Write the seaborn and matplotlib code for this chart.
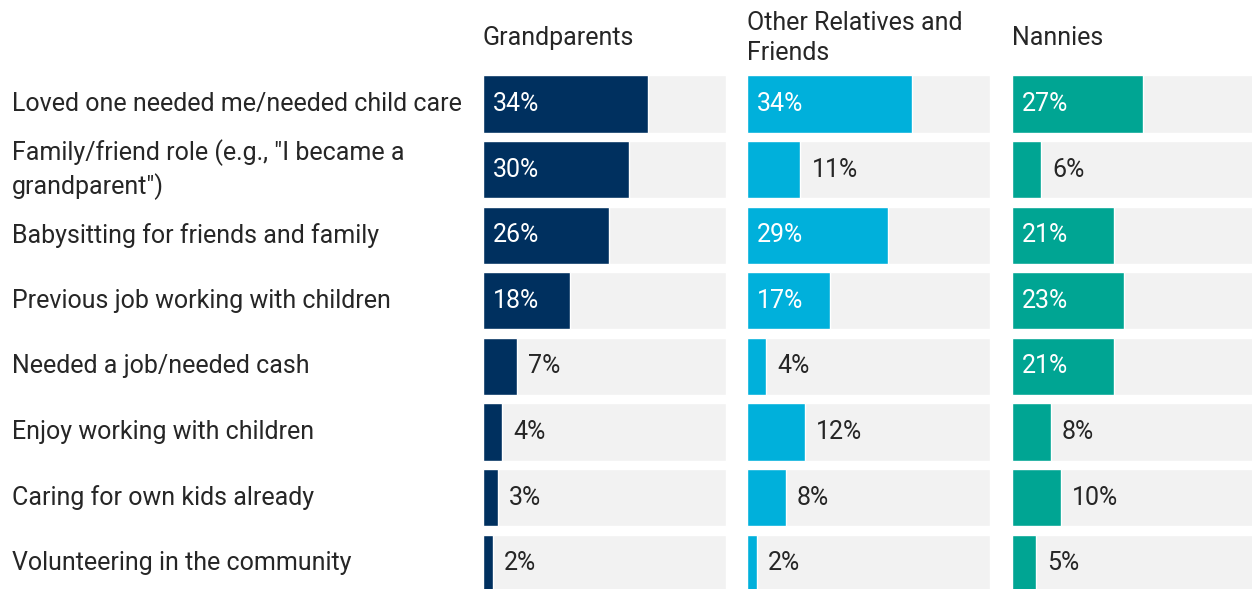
import matplotlib
matplotlib.use("Agg")
import matplotlib.pyplot as plt
import matplotlib.transforms as mtransforms
import seaborn as sns
import pandas as pd

categories = [
    "Loved one needed me/needed child care",
    "Family/friend role (e.g., \"I became a\ngrandparent\")",
    "Babysitting for friends and family",
    "Previous job working with children",
    "Needed a job/needed cash",
    "Enjoy working with children",
    "Caring for own kids already",
    "Volunteering in the community",
]
groups = ["Grandparents", "Other Relatives and\nFriends", "Nannies"]
grandparents = [34, 30, 26, 18, 7, 4, 3, 2]
other_relatives = [34, 11, 29, 17, 4, 12, 8, 2]
nannies = [27, 6, 21, 23, 21, 8, 10, 5]
scale_max = 50

colors = ["#00305f", "#00b0db", "#00a593"]
track_color = "#f2f2f2"
text_color = "#262626"

sns.set_theme(style="white")
plt.rcParams["font.family"] = ["Roboto", "DejaVu Sans"]

W, H = 1252, 589
fig = plt.figure(figsize=(W / 100, H / 100), dpi=100)

row_step = 65.6
first_center = 104
top_px = first_center - row_step / 2
height_px = row_step * len(categories)
bottom_frac = (H - (top_px + height_px)) / H
height_frac = height_px / H

panel_left_px = [483, 747, 1012]
panel_width_px = 243
series = [grandparents, other_relatives, nannies]

font_size = 18
axes = []
for i, (name, vals, col) in enumerate(zip(groups, series, colors)):
    ax = fig.add_axes([panel_left_px[i] / W, bottom_frac, panel_width_px / W, height_frac])
    df = pd.DataFrame({"category": categories, "value": vals, "track": [scale_max] * len(categories)})
    sns.barplot(data=df, x="track", y="category", color=track_color, width=0.87,
                saturation=1, ax=ax, orient="h")
    sns.barplot(data=df, x="value", y="category", color=col, width=0.87,
                saturation=1, ax=ax, orient="h")
    ax.set_xlim(0, scale_max)
    ax.set_ylim(len(categories) - 0.5, -0.5)
    ax.set_axis_off()
    for j, v in enumerate(vals):
        if v >= 15:
            ax.annotate(f"{v}%", (0, j), xytext=(7.2, 0), textcoords="offset points",
                        ha="left", va="center", color="white", fontsize=font_size)
        else:
            ax.annotate(f"{v}%", (v, j), xytext=(8, 0), textcoords="offset points",
                        ha="left", va="center", color=text_color, fontsize=font_size)
    fig.text(panel_left_px[i] / W, 1 - 38 / H, name, ha="left", va="center",
             fontsize=font_size, color=text_color, linespacing=1.3)
    axes.append(ax)

trans = mtransforms.blended_transform_factory(fig.transFigure, axes[0].transData)
for j, cat in enumerate(categories):
    axes[0].text(12 / W, j, cat, transform=trans, ha="left", va="center",
                 fontsize=font_size, color=text_color, linespacing=1.32, clip_on=False)

fig.savefig("out.png", dpi=100, facecolor="white")
